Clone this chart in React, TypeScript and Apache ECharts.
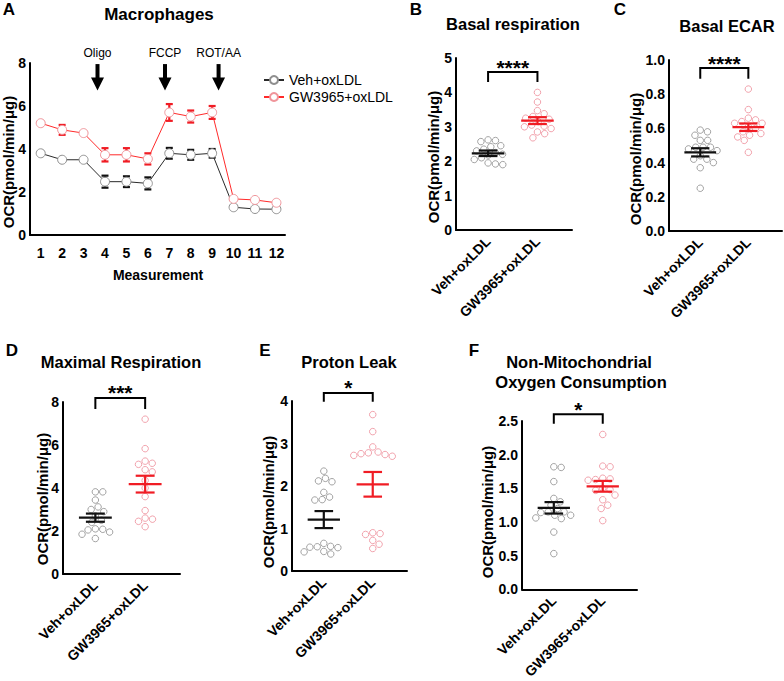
import React, { useEffect, useRef } from "react";
import * as echarts from "echarts";

const FONT = '"Liberation Sans", Arial, Helvetica, sans-serif';

// ---------- Panel A: Seahorse time course ----------
const measurements = [1, 2, 3, 4, 5, 6, 7, 8, 9, 10, 11, 12];
const vehOCR = [3.8, 3.5, 3.5, 2.48, 2.48, 2.4, 3.8, 3.73, 3.8, 1.29, 1.21, 1.2];
const vehOCRErr = [0, 0, 0, 0.28, 0.25, 0.28, 0.25, 0.23, 0.2, 0, 0, 0];
const gwOCR = [5.2, 4.89, 4.74, 3.73, 3.73, 3.54, 5.7, 5.51, 5.7, 1.68, 1.63, 1.5];
const gwOCRErr = [0, 0.23, 0, 0.31, 0.31, 0.26, 0.39, 0.28, 0.3, 0, 0, 0];
const injectionNames = ["Oligo", "FCCP", "ROT/AA"];
const injectionAt = [3.65, 6.8, 9.3];

const groupNames = ["Veh+oxLDL", "GW3965+oxLDL"];

// ---------- Panel B: Basal respiration ----------
const basalVeh = [2.62, 2.6, 2.57, 2.45, 2.42, 2.35, 2.3, 2.25, 2.2, 2.18, 2.1, 2.05, 1.95, 1.92, 1.9];
const basalGW = [4.0, 3.72, 3.47, 3.38, 3.3, 3.25, 3.22, 3.15, 3.05, 3.02, 3.0, 2.95, 2.85, 2.8, 2.68];
const basalMean = [2.23, 3.18];
const basalSem = [0.08, 0.1];
const basalBracket = [4.3, 4.59];

// ---------- Panel C: Basal ECAR ----------
const ecarVeh = [0.59, 0.58, 0.56, 0.53, 0.53, 0.49, 0.49, 0.49, 0.48, 0.47, 0.44, 0.42, 0.42, 0.4, 0.37, 0.25];
const ecarGW = [0.83, 0.71, 0.66, 0.65, 0.64, 0.63, 0.63, 0.61, 0.6, 0.58, 0.57, 0.56, 0.55, 0.53, 0.46];
const ecarMean = [0.46, 0.607];
const ecarSem = [0.024, 0.022];
const ecarBracket = [0.89, 0.953];

// ---------- Panel D: Maximal respiration ----------
const maxVeh = [3.82, 3.82, 3.44, 3.12, 3.0, 2.9, 2.7, 2.5, 2.4, 2.1, 2.08, 2.05, 1.95, 1.85, 1.65];
const maxGW = [7.2, 5.83, 5.25, 5.15, 5.1, 4.85, 4.75, 4.35, 4.0, 3.6, 2.95, 2.6, 2.55, 2.45, 2.2];
const maxMean = [2.62, 4.18];
const maxSem = [0.19, 0.39];
const maxBracket = [7.67, 8.19];

// ---------- Panel E: Proton leak ----------
const leakVeh = [2.35, 2.18, 2.12, 2.1, 1.85, 1.74, 1.68, 1.67, 0.65, 0.58, 0.57, 0.56, 0.55, 0.46, 0.45, 0.4];
const leakGW = [3.68, 3.28, 2.92, 2.8, 2.78, 2.76, 2.74, 2.72, 2.7, 0.9, 0.88, 0.86, 0.72, 0.63, 0.53];
const leakMean = [1.21, 2.04];
const leakSem = [0.2, 0.29];
const leakBracket = [3.98, 4.19];

// ---------- Panel F: Non-mitochondrial O2 consumption ----------
const nonMitoVeh = [1.82, 1.81, 1.6, 1.35, 1.3, 1.25, 1.2, 1.15, 1.15, 1.14, 1.1, 1.1, 1.06, 1.05, 0.85, 0.53];
const nonMitoGW = [2.3, 1.83, 1.82, 1.65, 1.64, 1.63, 1.62, 1.5, 1.48, 1.47, 1.4, 1.33, 1.25, 1.2, 1.02];
const nonMitoMean = [1.21, 1.53];
const nonMitoSem = [0.085, 0.08];
const nonMitoBracket = [2.46, 2.6];

const VEH_DOT = "#8c8c8c";
const GW_DOT = "#ee8c98";
const VEH_LINE = "#111111";
const GW_LINE = "#f01c24";

const X_MIN = -0.65;
const X_MAX = 1.7;

const scatterPanels = [
  { id: "B", veh: basalVeh, gw: basalGW, mean: basalMean, sem: basalSem, yMax: 5, yInt: 1, dec: 0, bracket: basalBracket, stars: "****", grid: { left: 456, top: 58, width: 116, height: 172 } },
  { id: "C", veh: ecarVeh, gw: ecarGW, mean: ecarMean, sem: ecarSem, yMax: 1, yInt: 0.2, dec: 1, bracket: ecarBracket, stars: "****", grid: { left: 669, top: 60, width: 113, height: 171 } },
  { id: "D", veh: maxVeh, gw: maxGW, mean: maxMean, sem: maxSem, yMax: 8, yInt: 2, dec: 0, bracket: maxBracket, stars: "***", grid: { left: 63, top: 402, width: 117, height: 172 } },
  { id: "E", veh: leakVeh, gw: leakGW, mean: leakMean, sem: leakSem, yMax: 4, yInt: 1, dec: 0, bracket: leakBracket, stars: "*", grid: { left: 292, top: 401, width: 115, height: 170 } },
  { id: "F", veh: nonMitoVeh, gw: nonMitoGW, mean: nonMitoMean, sem: nonMitoSem, yMax: 2.5, yInt: 0.5, dec: 1, bracket: nonMitoBracket, stars: "*", grid: { left: 522, top: 421, width: 115, height: 171 } },
];

// deterministic beeswarm: horizontal offsets (data units) so circles do not overlap
function beeswarm(values: number[], pxPerX: number, pxPerY: number, diam: number): number[] {
  const order = values.map((_, i) => i).sort((a, b) => values[b] - values[a]);
  const placed: { x: number; y: number }[] = [];
  const offs = new Array(values.length).fill(0);
  for (const i of order) {
    const y = values[i] * pxPerY;
    const forb: [number, number][] = [];
    for (const p of placed) {
      const dy = Math.abs(p.y - y);
      if (dy < diam) {
        const w = Math.sqrt(diam * diam - dy * dy);
        forb.push([p.x - w, p.x + w]);
      }
    }
    const cands = [0];
    forb.forEach(([a, b]) => cands.push(a, b));
    cands.sort((a, b) => Math.abs(a) - Math.abs(b) || b - a);
    let chosen = 0;
    for (const c of cands) {
      if (!forb.some(([a, b]) => c > a + 1e-6 && c < b - 1e-6)) {
        chosen = c;
        break;
      }
    }
    placed.push({ x: chosen, y });
    offs[i] = chosen / pxPerX;
  }
  return offs;
}

const axisLineStyle = { show: true, onZero: false, lineStyle: { color: "#000", width: 2 } };

function buildOption(): any {
  const grids: any[] = [];
  const xAxes: any[] = [];
  const yAxes: any[] = [];
  const series: any[] = [];

  // Panel A
  grids.push({ left: 30, top: 63, width: 255, height: 172 });
  xAxes.push({
    type: "value", gridIndex: 0, min: 0.5, max: 12.4,
    axisLine: axisLineStyle, axisTick: { show: false }, splitLine: { show: false },
    axisLabel: {
      customValues: measurements,
      formatter: (v: number) => (Number.isInteger(v) && v >= 1 && v <= 12 ? String(v) : ""),
      color: "#000", fontFamily: FONT, fontWeight: "bold", fontSize: 14, margin: 11,
    },
  });
  yAxes.push({
    type: "value", gridIndex: 0, min: 0, max: 8, interval: 2,
    axisLine: axisLineStyle, axisTick: { show: false }, splitLine: { show: false },
    axisLabel: { color: "#000", fontFamily: FONT, fontWeight: "bold", fontSize: 14, margin: 4 },
  });

  const errRender = (color: string) => (params: any, api: any) => {
    const x = api.value(0), v = api.value(1), e = api.value(2);
    const t = api.coord([x, v + e]);
    const b = api.coord([x, v - e]);
    const cw = 3.5;
    const st = { stroke: color, lineWidth: 2.2 };
    return {
      type: "group",
      children: [
        { type: "line", shape: { x1: t[0], y1: t[1], x2: b[0], y2: b[1] }, style: st },
        { type: "line", shape: { x1: t[0] - cw, y1: t[1], x2: t[0] + cw, y2: t[1] }, style: st },
        { type: "line", shape: { x1: b[0] - cw, y1: b[1], x2: b[0] + cw, y2: b[1] }, style: st },
      ],
    };
  };

  series.push({
    type: "custom", name: "errVeh", xAxisIndex: 0, yAxisIndex: 0, z: 1,
    data: measurements.map((m, i) => [m, vehOCR[i], vehOCRErr[i]]).filter((d) => d[2] > 0),
    renderItem: errRender(VEH_LINE),
  });
  series.push({
    type: "custom", name: "errGW", xAxisIndex: 0, yAxisIndex: 0, z: 1,
    data: measurements.map((m, i) => [m, gwOCR[i], gwOCRErr[i]]).filter((d) => d[2] > 0),
    renderItem: errRender(GW_LINE),
  });
  series.push({
    type: "line", name: groupNames[0], xAxisIndex: 0, yAxisIndex: 0, z: 3,
    data: measurements.map((m, i) => [m, vehOCR[i]]),
    symbol: "circle", symbolSize: 9, showAllSymbol: true,
    lineStyle: { color: "#2a2a2a", width: 1 },
    itemStyle: { color: "#ffffff", borderColor: "#8f8f8f", borderWidth: 1 },
  });
  series.push({
    type: "line", name: groupNames[1], xAxisIndex: 0, yAxisIndex: 0, z: 3,
    data: measurements.map((m, i) => [m, gwOCR[i]]),
    symbol: "circle", symbolSize: 9, showAllSymbol: true,
    lineStyle: { color: "#ff2a2a", width: 1 },
    itemStyle: { color: "#ffffff", borderColor: "#f0959b", borderWidth: 1 },
  });
  series.push({
    type: "custom", name: "arrows", xAxisIndex: 0, yAxisIndex: 0, z: 4, clip: false,
    data: injectionAt.map((a) => [a, 7.95, 6.72]),
    renderItem: (params: any, api: any) => {
      const x = api.value(0);
      const top = api.coord([x, api.value(1)]);
      const tip = api.coord([x, api.value(2)]);
      return {
        type: "group",
        children: [
          { type: "line", shape: { x1: top[0], y1: top[1], x2: tip[0], y2: tip[1] - 10 }, style: { stroke: "#000", lineWidth: 4 } },
          { type: "polygon", shape: { points: [[tip[0] - 6.5, tip[1] - 13], [tip[0] + 6.5, tip[1] - 13], [tip[0], tip[1]]] }, style: { fill: "#000" } },
          {
            type: "text",
            style: { text: injectionNames[params.dataIndex], x: top[0], y: top[1] - 11, fill: "#000", font: `12px ${FONT}`, textAlign: "center", textVerticalAlign: "middle" },
          },
        ],
      };
    },
  });

  // Scatter panels
  scatterPanels.forEach((p, k) => {
    const gi = k + 1;
    grids.push({ ...p.grid });
    xAxes.push({
      type: "value", gridIndex: gi, min: X_MIN, max: X_MAX,
      axisLine: axisLineStyle, axisTick: { show: false }, splitLine: { show: false },
      axisLabel: {
        customValues: [0, 1],
        formatter: (v: number) => (v === 0 || v === 1 ? groupNames[v] : ""),
        rotate: 45, color: "#000", fontFamily: FONT, fontWeight: "bold", fontSize: 14, margin: 9,
      },
    });
    yAxes.push({
      type: "value", gridIndex: gi, min: 0, max: p.yMax, interval: p.yInt,
      axisLine: axisLineStyle, axisTick: { show: false }, splitLine: { show: false },
      axisLabel: {
        formatter: (v: number) => v.toFixed(p.dec),
        color: "#000", fontFamily: FONT, fontWeight: "bold", fontSize: 14, margin: 4,
      },
    });
    const pxX = p.grid.width / (X_MAX - X_MIN);
    const pxY = p.grid.height / p.yMax;
    const offV = beeswarm(p.veh, pxX, pxY, 7.4);
    const offG = beeswarm(p.gw, pxX, pxY, 7.4);
    series.push({
      type: "scatter", name: `${p.id}-veh`, xAxisIndex: gi, yAxisIndex: gi, z: 2,
      data: p.veh.map((v, i) => [0 + offV[i], v]),
      symbol: "circle", symbolSize: 6.5,
      itemStyle: { color: "rgba(255,255,255,0)", borderColor: VEH_DOT, borderWidth: 1 },
    });
    series.push({
      type: "scatter", name: `${p.id}-gw`, xAxisIndex: gi, yAxisIndex: gi, z: 2,
      data: p.gw.map((v, i) => [1 + offG[i], v]),
      symbol: "circle", symbolSize: 6.5,
      itemStyle: { color: "rgba(255,255,255,0)", borderColor: GW_DOT, borderWidth: 1 },
    });
    series.push({
      type: "custom", name: `${p.id}-mean`, xAxisIndex: gi, yAxisIndex: gi, z: 5,
      data: [0, 1].map((g) => [g, p.mean[g], p.sem[g]]),
      renderItem: (params: any, api: any) => {
        const x = api.value(0), m = api.value(1), s = api.value(2);
        const c = api.coord([x, m]);
        const t = api.coord([x, m + s]);
        const b = api.coord([x, m - s]);
        const mw = api.size([0.33, 0])[0];
        const cw = api.size([0.19, 0])[0];
        const color = params.dataIndex === 0 ? VEH_LINE : GW_LINE;
        const st = { stroke: color, lineWidth: 2.2 };
        return {
          type: "group",
          children: [
            { type: "line", shape: { x1: c[0] - mw, y1: c[1], x2: c[0] + mw, y2: c[1] }, style: st },
            { type: "line", shape: { x1: t[0], y1: t[1], x2: b[0], y2: b[1] }, style: st },
            { type: "line", shape: { x1: t[0] - cw, y1: t[1], x2: t[0] + cw, y2: t[1] }, style: st },
            { type: "line", shape: { x1: b[0] - cw, y1: b[1], x2: b[0] + cw, y2: b[1] }, style: st },
          ],
        };
      },
    });
    series.push({
      type: "custom", name: `${p.id}-sig`, xAxisIndex: gi, yAxisIndex: gi, z: 5, clip: false,
      data: [[0.5, p.bracket[1], p.bracket[0]]],
      renderItem: (params: any, api: any) => {
        const hi = api.value(1), lo = api.value(2);
        const p0 = api.coord([0, lo]);
        const p1 = api.coord([0, hi]);
        const p2 = api.coord([1, hi]);
        const p3 = api.coord([1, lo]);
        return {
          type: "group",
          children: [
            { type: "polyline", shape: { points: [p0, p1, p2, p3] }, style: { stroke: "#000", lineWidth: 2, fill: "none" } },
            {
              type: "text",
              style: { text: p.stars, x: (p1[0] + p2[0]) / 2, y: p1[1] - 5, fill: "#000", font: `bold 21px ${FONT}`, textAlign: "center", textVerticalAlign: "middle" },
            },
          ],
        };
      },
    });
  });

  const txt = (text: string, x: number, y: number, size: number, bold = true, rotation = 0) => ({
    type: "text", x, y, rotation,
    style: { text, fill: "#000", font: `${bold ? "bold " : ""}${size}px ${FONT}`, textAlign: "center", textVerticalAlign: "middle" },
  });
  const yName = "OCR(pmol/min/\u03bcg)";

  const graphic = [
    txt("A", 9, 9, 17), txt("B", 416, 9, 17), txt("C", 620, 9, 17),
    txt("D", 12, 350, 17), txt("E", 265, 350, 17), txt("F", 474, 350, 17),
    txt("Macrophages", 159, 14, 17),
    txt("Basal respiration", 513, 24, 16.5),
    txt("Basal ECAR", 727, 26, 16.5),
    txt("Maximal Respiration", 121, 362, 16.5),
    txt("Proton Leak", 349, 362, 16.5),
    txt("Non-Mitochondrial", 579, 362, 16.5),
    txt("Oxygen Consumption", 581, 382, 16.5),
    txt("Measurement", 158, 275, 14),
    txt(yName, 8, 162, 15, true, Math.PI / 2),
    txt(yName, 433, 157, 15, true, Math.PI / 2),
    txt(yName, 635, 159, 15, true, Math.PI / 2),
    txt(yName, 42, 499, 15, true, Math.PI / 2),
    txt(yName, 268, 502, 15, true, Math.PI / 2),
    txt(yName, 487, 512, 15, true, Math.PI / 2),
  ];

  return {
    animation: false,
    backgroundColor: "#fff",
    textStyle: { fontFamily: FONT },
    grid: grids,
    xAxis: xAxes,
    yAxis: yAxes,
    legend: {
      data: groupNames, left: 258, top: 68, orient: "vertical",
      itemWidth: 20, itemHeight: 10, itemGap: 3,
      textStyle: { fontSize: 14, fontFamily: FONT, color: "#000" },
      selectedMode: false,
    },
    series,
    graphic,
  };
}

export default function App() {
  const ref = useRef<HTMLDivElement>(null);
  useEffect(() => {
    const chart = echarts.init(ref.current as HTMLDivElement, null, { renderer: "svg" });
    chart.setOption(buildOption());
    return () => chart.dispose();
  }, []);
  return (
    <div
      ref={ref}
      style={{ position: "fixed", left: 0, top: 0, width: 784, height: 681, background: "#fff" }}
    />
  );
}
